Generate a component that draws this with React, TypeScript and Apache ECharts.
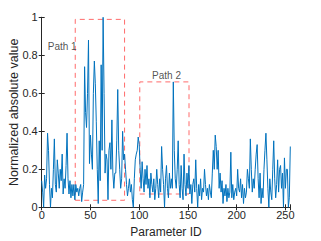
import React, { useEffect, useRef } from "react";
import * as echarts from "echarts";

const values: number[] = [
  0.14, 0.08, 0.0, 0.17, 0.1, 0.15, 0.39, 0.3, 0.12, 0.0,
  0.1, 0.05, 0.2, 0.36, 0.12, 0.08, 0.25, 0.18, 0.1, 0.2,
  0.14, 0.28, 0.07, 0.15, 0.1, 0.22, 0.39, 0.15, 0.07, 0.14,
  0.05, 0.12, 0.06, 0.12, 0.04, 0.12, 0.08, 0.1, 0.06, 0.1,
  0.12, 0.03, 0.08, 0.12, 0.74, 0.5, 0.42, 0.6, 0.88, 0.23,
  0.38, 0.28, 0.2, 0.6, 0.77, 0.65, 0.45, 0.2, 0.02, 0.35,
  0.14, 0.75, 0.3, 1.0, 0.6, 0.18, 0.28, 0.25, 0.04, 0.3,
  0.34, 0.2, 0.46, 0.18, 0.1, 0.18, 0.18, 0.35, 0.62, 0.3,
  0.2, 0.1, 0.15, 0.4, 0.25, 0.28, 0.2, 0.12, 0.06, 0.1,
  0.15, 0.08, 0.12, 0.04, 0.0, 0.15, 0.25, 0.28, 0.3, 0.37,
  0.33, 0.2, 0.1, 0.24, 0.15, 0.08, 0.2, 0.12, 0.22, 0.1,
  0.15, 0.05, 0.18, 0.12, 0.08, 0.15, 0.04, 0.1, 0.2, 0.12,
  0.05, 0.15, 0.08, 0.32, 0.2, 0.12, 0.0, 0.15, 0.22, 0.1,
  0.05, 0.18, 0.1, 0.15, 0.1, 0.66, 0.3, 0.15, 0.1, 0.2,
  0.35, 0.12, 0.05, 0.22, 0.1, 0.04, 0.28, 0.12, 0.06, 0.18,
  0.1, 0.22, 0.07, 0.12, 0.02, 0.12, 0.15, 0.08, 0.25, 0.1,
  0.0, 0.12, 0.06, 0.15, 0.04, 0.1, 0.08, 0.2, 0.12, 0.06,
  0.1, 0.04, 0.12, 0.08, 0.05, 0.18, 0.3, 0.2, 0.38, 0.32,
  0.2, 0.3, 0.1, 0.18, 0.08, 0.14, 0.02, 0.1, 0.06, 0.12,
  0.03, 0.1, 0.05, 0.08, 0.29, 0.05, 0.12, 0.04, 0.08, 0.1,
  0.06, 0.2, 0.1, 0.08, 0.15, 0.05, 0.12, 0.02, 0.1, 0.05,
  0.08, 0.2, 0.15, 0.1, 0.36, 0.2, 0.08, 0.15, 0.1, 0.2,
  0.28, 0.33, 0.15, 0.05, 0.18, 0.02, 0.1, 0.05, 0.2, 0.3,
  0.39, 0.25, 0.1, 0.0, 0.15, 0.08, 0.04, 0.2, 0.35, 0.15,
  0.05, 0.12, 0.25, 0.08, 0.2, 0.22, 0.1, 0.18, 0.0, 0.26,
  0.1, 0.2, 0.2, 0.0, 0.05, 0.32,
];

const boxNames = ["Path 1", "Path 2"];
const boxX = [[34.4, 85], [100.6, 151.1]];
const boxY = [[0.037, 0.989], [0.07, 0.66]];
const labelX = [21, 128];
const labelY = [0.846, 0.695];

const xTicks = [0, 50, 100, 150, 200, 250];
const yTicks = [0, 0.2, 0.4, 0.6, 0.8, 1];

export default function App() {
  const ref = useRef<HTMLDivElement>(null);
  useEffect(() => {
    if (!ref.current) return;
    const chart = echarts.init(ref.current, undefined, { renderer: "svg" });
    const axisColor = "#262626";
    const font = "Liberation Sans, Arial, Helvetica, sans-serif";
    const lineData = values.map((v, i) => [i, v]);
    const rects = boxNames.map((n, k) => [
      { xAxis: boxX[k][0], yAxis: boxY[k][0] },
      { xAxis: boxX[k][1], yAxis: boxY[k][1] },
    ]);
    const labelData = boxNames.map((n, k) => ({ value: [labelX[k], labelY[k]], name: n }));
    const commonX = {
      type: "value",
      min: 0,
      max: 255,
      interval: 50,
      axisLine: { show: true, lineStyle: { color: axisColor, width: 1 } },
      axisTick: { show: true, inside: true, length: 3, lineStyle: { color: axisColor } },
      splitLine: { show: false },
    };
    const commonY = {
      type: "value",
      min: 0,
      max: 1,
      interval: 0.2,
      axisLine: { show: true, lineStyle: { color: axisColor, width: 1 } },
      axisTick: { show: true, inside: true, length: 3, lineStyle: { color: axisColor } },
      splitLine: { show: false },
    };
    chart.setOption({
      animation: false,
      grid: {
        left: 41.7,
        right: 30.7,
        top: 17.3,
        bottom: 33.7,
        containLabel: false,
        outerBoundsMode: "none",
      },
      xAxis: [
        {
          ...commonX,
          position: "bottom",
          name: "Parameter ID",
          nameLocation: "middle",
          nameGap: 19,
          nameMoveOverlap: false,
          nameTextStyle: { fontFamily: font, fontSize: 12, color: axisColor },
          axisLabel: {
            fontFamily: font,
            fontSize: 11,
            color: axisColor,
            margin: 2,
            formatter: (v: number) => (xTicks.includes(v) ? String(v) : ""),
          },
        },
        { ...commonX, position: "top", axisLabel: { show: false } },
      ],
      yAxis: [
        {
          ...commonY,
          position: "left",
          name: "Normalized absolute value",
          nameLocation: "middle",
          nameGap: 21,
          nameMoveOverlap: false,
          nameTextStyle: { fontFamily: font, fontSize: 12.5, color: axisColor },
          axisLabel: {
            fontFamily: font,
            fontSize: 11,
            color: axisColor,
            margin: 4,
            formatter: (v: number) => {
              const t = yTicks.find((y) => Math.abs(y - v) < 1e-9);
              return t === undefined ? "" : String(t);
            },
          },
        },
        { ...commonY, position: "right", axisLabel: { show: false } },
      ],
      series: [
        {
          type: "line",
          data: lineData,
          symbol: "none",
          lineStyle: { color: "#0072BD", width: 1 },
          markArea: {
            silent: true,
            itemStyle: {
              color: "rgba(0,0,0,0)",
              borderColor: "#FF6B6B",
              borderWidth: 1,
              borderType: [5, 4],
            },
            data: rects,
          },
          z: 2,
        },
        {
          type: "scatter",
          data: labelData,
          symbolSize: 0,
          label: {
            show: true,
            position: "inside",
            formatter: (p: any) => p.name,
            fontFamily: font,
            fontSize: 10,
            color: axisColor,
          },
          z: 3,
        },
      ],
    });
    return () => chart.dispose();
  }, []);
  return <div ref={ref} style={{ width: 321, height: 241, position: "absolute", left: 0, top: 0 }} />;
}
